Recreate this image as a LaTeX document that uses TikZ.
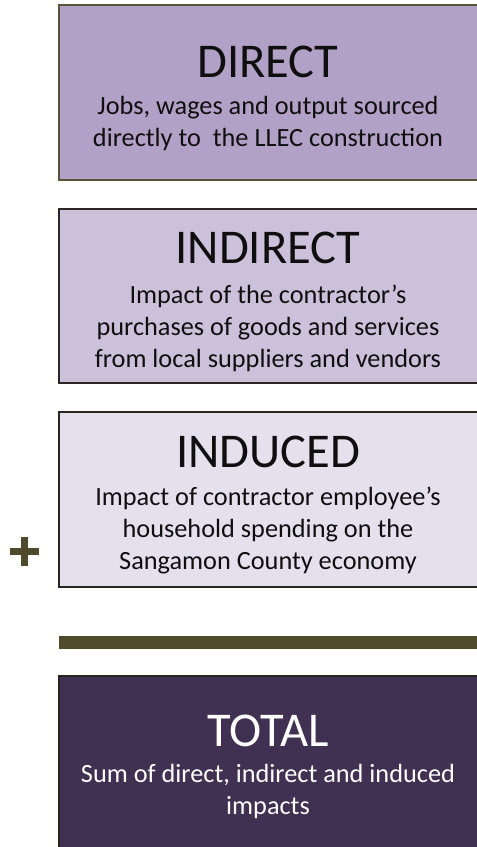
\documentclass[tikz,border=0pt]{standalone}
\usepackage{fontspec}
\setmainfont{Carlito}
\definecolor{cDirect}{RGB}{178,161,199}
\definecolor{cDirectB}{RGB}{90,83,58}
\definecolor{cIndirect}{RGB}{204,193,218}
\definecolor{cIndirectB}{RGB}{42,40,32}
\definecolor{cInduced}{RGB}{229,224,236}
\definecolor{cInducedB}{RGB}{40,38,30}
\definecolor{cTotal}{RGB}{64,49,82}
\definecolor{cTotalB}{RGB}{40,35,30}
\definecolor{cOlive}{RGB}{79,74,44}
\definecolor{cText}{RGB}{15,15,15}
\begin{document}
\begin{tikzpicture}[x=1pt,y=-1pt,
  box/.style={rectangle, draw, line width=2.5pt, inner sep=0pt, outer sep=0pt,
              minimum width=424pt, minimum height=175pt, anchor=north west},
  ttl/.style={font=\fontsize{48.5}{56}\selectfont, inner sep=0pt, text=cText},
  body/.style={font=\fontsize{26.3}{32}\selectfont, align=center, inner sep=0pt, text=cText},
  bar/.style={fill=cOlive, draw=none},
  plusline/.style={draw=cOlive, line width=7pt}
]
\useasboundingbox (0,0) rectangle (477,847);
\clip (0,0) rectangle (477,847);

\node[box, fill=cDirect, draw=cDirectB] (direct) at (59,5) {};
\node[ttl] (directT) at (268,62) {DIRECT};
\node[body] (directB) at (268,123) {Jobs, wages and output sourced\\directly to\ \ the LLEC construction};

\node[box, fill=cIndirect, draw=cIndirectB, minimum height=174pt] (indirect) at (59,209) {};
\node[ttl] (indirectT) at (268,248) {INDIRECT};
\node[body] (indirectB) at (268,328) {Impact of the contractor’s\\purchases of goods and services\\from local suppliers and vendors};

\node[box, fill=cInduced, draw=cInducedB] (induced) at (59,412) {};
\node[ttl] (inducedT) at (268,452) {INDUCED};
\node[body] (inducedB) at (268,530) {Impact of contractor employee’s\\household spending on the\\Sangamon County economy};

\path[plusline] (9.5,551) -- (38.5,551);
\path[plusline] (24,536.5) -- (24,565.5);

\fill[bar] (59,636) rectangle (477,649);

\node[box, fill=cTotal, draw=cTotalB, minimum height=185pt] (total) at (59,676) {};
\node[ttl, text=white] (totalT) at (268,731) {TOTAL};
\node[body, text=white] (totalB) at (268,791) {Sum of direct, indirect and induced\\impacts};
\end{tikzpicture}
\end{document}
